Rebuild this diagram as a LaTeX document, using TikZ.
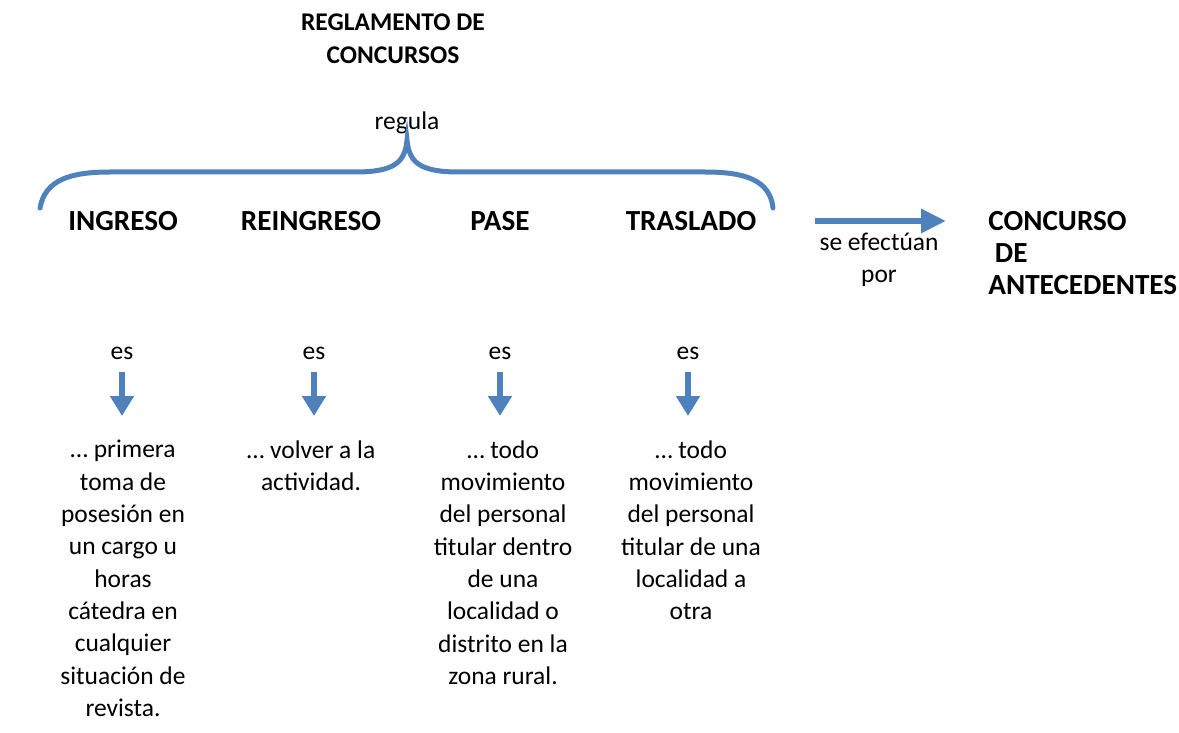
\documentclass[tikz,border=0pt]{standalone}
\usepackage{fontspec}
\setmainfont{Carlito}
\usetikzlibrary{arrows.meta}
\definecolor{bluearrow}{RGB}{79,129,189}
\tikzset{
  txt/.style={inner sep=0pt, align=center, font=\fontsize{14.5}{18.4}\selectfont},
  bold/.style={inner sep=0pt, align=center, font=\fontsize{16.6}{18.1}\selectfont\bfseries},
  bracepath/.style={draw=bluearrow, line width=0.1cm, line cap=round},
  downarrow/.style={draw=bluearrow, line width=0.12cm, -{Triangle[length=0.4cm, width=0.46cm]}},
  rightarrow/.style={draw=bluearrow, line width=0.12cm, -{Triangle[length=0.5cm, width=0.46cm]}},
}
\begin{document}
\begin{tikzpicture}[x=0.02cm, y=-0.02cm]
\useasboundingbox (0,0) rectangle (1179,733);
% title
\node[inner sep=0pt, align=center, font=\fontsize{14.5}{18.7}\selectfont\bfseries] (title) at (393,39) {REGLAMENTO DE\\CONCURSOS};
\node[txt] (regula) at (407,123) {regula};
% brace
\draw[bracepath] (40,208) .. controls (45,180) and (70,172) .. (110,172) -- (355,172)
  .. controls (395,172) and (405,162) .. (407,140)
  .. controls (409,162) and (419,172) .. (459,172) -- (705,172)
  .. controls (745,172) and (770,180) .. (773,208);
% categories
\node[bold] (ingreso) at (123,221) {INGRESO};
\node[bold] (reingreso) at (311,221) {REINGRESO};
\node[bold] (pase) at (500,221) {PASE};
\node[bold] (traslado) at (691,221) {TRASLADO};
% right arrow
\coordinate (ra1) at (815,221);
\coordinate (ra2) at (946,221);
\draw[rightarrow] (ra1) -- (ra2);
\node[txt] (efect) at (879,260) {se efectúan\\por};
\node[bold, align=left, anchor=west] (concurso) at (988,253) {CONCURSO\\\ DE\\ANTECEDENTES};
% es labels
\foreach \n/\x in {1/122, 2/314, 3/500, 4/688}{
  \node[txt] (es\n) at (\x,353) {es};
  \coordinate (a\n) at (\x,372);
  \coordinate (b\n) at (\x,416);
  \draw[downarrow] (a\n) -- (b\n);
}
% descriptions
\node[txt, anchor=north] (d1) at (123,440) {… primera\\toma de\\posesión en\\un cargo u\\horas\\cátedra en\\cualquier\\situación de\\revista.};
\node[txt, anchor=north] (d2) at (311,440) {… volver a la\\actividad.};
\node[txt, anchor=north] (d3) at (503,440) {… todo\\movimiento\\del personal\\titular dentro\\de una\\localidad o\\distrito en la\\zona rural.};
\node[txt, anchor=north] (d4) at (691,440) {… todo\\movimiento\\del personal\\titular de una\\localidad a\\otra};
\end{tikzpicture}
\end{document}
